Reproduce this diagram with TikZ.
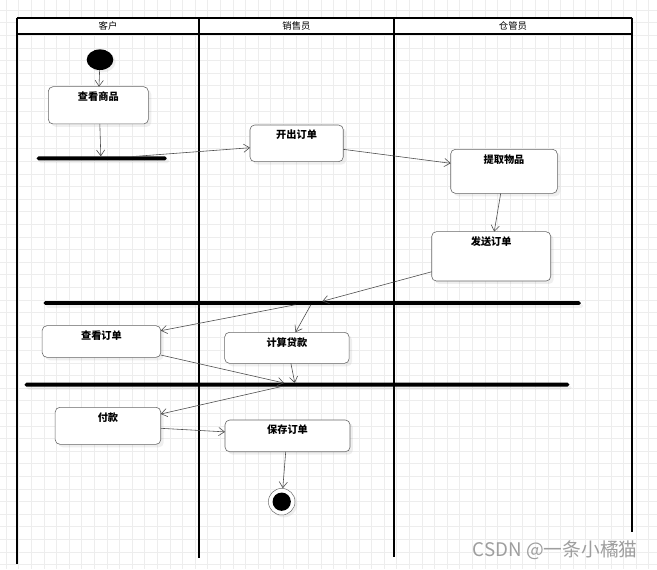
\documentclass[tikz,border=0pt]{standalone}
\usepackage{fontspec}
\setmainfont{Noto Sans CJK SC}
\usetikzlibrary{shapes.geometric, arrows.meta, calc, shadows}
\tikzset{
    lane/.style = {line width=1.4pt, draw=black},
    gridline/.style = {draw=black!7, line width=0.5pt},
    lanetitle/.style = {font=\fontsize{8}{9}\selectfont},
    activity/.style = {rectangle, rounded corners=4pt, draw=black!60, fill=white, line width=0.5pt,
                       anchor=north west, inner sep=0pt, outer sep=0pt, text height=11.8pt,
                       font=\fontsize{8.7}{10}\selectfont\bfseries,
                       drop shadow={shadow xshift=2.5pt, shadow yshift=-2.5pt, opacity=0.12}},
    syncbar/.style = {rectangle, rounded corners=1.5pt, fill=black, inner sep=0pt, outer sep=0pt,
                      minimum height=3.4pt, anchor=west,
                      drop shadow={shadow xshift=2pt, shadow yshift=-2.5pt, opacity=0.1}},
    startnode/.style = {ellipse, fill=black, minimum width=22.7pt, minimum height=17.6pt, inner sep=0pt,
                        drop shadow={shadow xshift=2pt, shadow yshift=-2pt, opacity=0.12}},
    endnode/.style = {circle, draw=black!60, fill=white, minimum size=22.7pt, inner sep=0pt,
                      drop shadow={shadow xshift=2pt, shadow yshift=-2pt, opacity=0.12},
                      path picture={\fill[black] (path picture bounding box.center) circle (7.8pt);}},
    arrow/.style = {draw=black!70, line width=0.5pt, -{Straight Barb[length=5pt, width=7pt]}},
}
\begin{document}
\begin{tikzpicture}[x=0.03cm, y=-0.03cm]
\useasboundingbox (0,0) rectangle (657,569);
\fill[white] (0,0) rectangle (657,569);

% Grid
\foreach \gx in {6,18.6,...,657} \draw[gridline] (\gx,0) -- (\gx,569);
\foreach \gy in {10,22.6,...,569} \draw[gridline] (0,\gy) -- (657,\gy);

% Swimlanes
\fill[white] (16.7,17.7) rectangle (632.3,34);
\draw[lane] (16.7,17.7) -- (632.3,17.7);
\draw[lane] (16.7,34) -- (632.3,34);
\draw[lane] (16.7,17.7) -- (16.7,564);
\draw[lane] (199,17.7) -- (199,558);
\draw[lane] (394,17.7) -- (394,557);
\draw[lane] (632.3,17.7) -- (632.3,532);
\node (lane1) [lanetitle] at (108,26) {客户};
\node (lane2) [lanetitle] at (296.5,26) {销售员};
\node (lane3) [lanetitle] at (513,26) {仓管员};

% Activities
\node (start) [startnode] at (100,59.7) {};
\node (cg) [activity, minimum width=85.4pt, text depth=20pt] at (48.3,86.7) {查看商品};
\node (bar1) [syncbar, minimum width=111pt] at (36.7,158.3) {};
\node (kd) [activity, minimum width=79.6pt, text depth=19.5pt] at (250,125) {开出订单};
\node (tq) [activity, minimum width=91pt, text depth=25.8pt] at (450.7,149.3) {提取物品};
\node (fs) [activity, minimum width=101.6pt, text depth=30.3pt] at (431.7,231.7) {发送订单};
\node (bar2) [syncbar, minimum width=458.4pt] at (43.7,303) {};
\node (ck) [activity, minimum width=101.2pt, text depth=15.2pt] at (42.2,325.7) {查看订单};
\node (js) [activity, minimum width=106.2pt, text depth=14.7pt] at (224.7,332.3) {计算贷款};
\node (bar3) [syncbar, minimum width=464.9pt] at (24.6,384.7) {};
\node (fk) [activity, minimum width=90.1pt, text depth=19.8pt] at (55.2,407.3) {付款};
\node (bc) [activity, minimum width=106.7pt, text depth=15.3pt] at (225,420) {保存订单};
\node (end) [endnode] at (281.7,501.7) {};

% Points on the bars
\coordinate (j1out) at (132,156.6);
\coordinate (j2in) at (322.3,301.3);
\coordinate (j2outa) at (295.5,304.7);
\coordinate (j2outb) at (310.9,304.7);
\coordinate (j3ina) at (284,383);
\coordinate (j3inb) at (294.8,383);
\coordinate (j3out) at (282,386.4);

% Arrows
\draw[arrow] (start) -- (cg);
\draw[arrow] ($(cg.south)+(1.5,0)$) -- ($(cg.south |- bar1.north)+(2.5,0)$);
\draw[arrow] (j1out) -- ($(kd.west)+(0,4.4)$);
\draw[arrow] ($(kd.east)+(0,6)$) -- ($(tq.west)+(0,-8)$);
\draw[arrow] ($(tq.south)+(-3.3,0)$) -- ($(fs.north)+(3,0)$);
\draw[arrow] ($(fs.west)+(0,15.4)$) -- (j2in);
\draw[arrow] (j2outa) -- ($(ck.east)+(0,-10.8)$);
\draw[arrow] (j2outb) -- ($(js.north)+(8.6,0)$);
\draw[arrow] ($(ck.east)+(0,13.5)$) -- (j3ina);
\draw[arrow] ($(js.south)+(4,0)$) -- (j3inb);
\draw[arrow] (j3out) -- ($(fk.east)+(0,-11.8)$);
\draw[arrow] ($(fk.east)+(0,2.5)$) -- ($(bc.west)+(0,-4)$);
\draw[arrow] ($(bc.south)+(-1.8,0)$) -- (end);

\node (mark) [anchor=east, text=black!38, font=\fontsize{16}{18}\selectfont] at (641.7,550) {CSDN @一条小橘猫};
\end{tikzpicture}
\end{document}
